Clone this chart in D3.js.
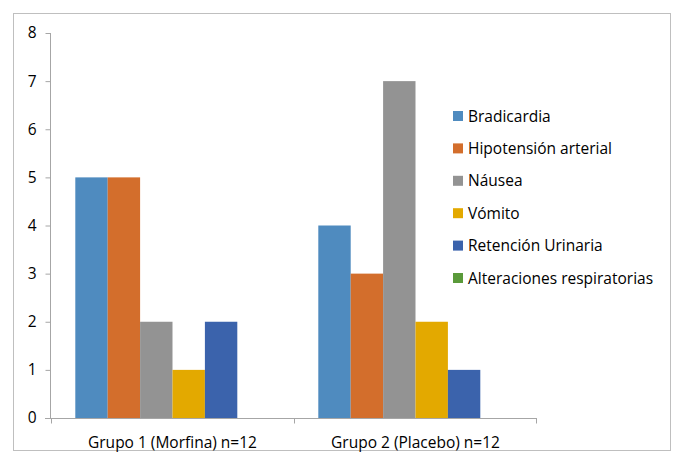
<!DOCTYPE html>
<html><head><meta charset="utf-8">
<script src="https://cdn.jsdelivr.net/npm/d3@7"></script>
<style>body{margin:0;background:#fff;} svg{display:block;} text{font-family:"Open Sans","Noto Sans",sans-serif;fill:#000;}</style>
</head><body>
<svg id="c" width="677" height="455"></svg>
<script>
const categories = ["Grupo 1 (Morfina) n=12", "Grupo 2 (Placebo) n=12"];
const seriesNames = ["Bradicardia", "Hipotensión arterial", "Náusea", "Vómito", "Retención Urinaria", "Alteraciones respiratorias"];
const seriesColors = ["#4F8BBF", "#D36E2C", "#939393", "#E3A900", "#3B63AC", "#5A9A3A"];
const values = [
  [5, 4],
  [5, 3],
  [2, 7],
  [1, 2],
  [2, 1],
  [0, 0]
];
const yTicks = [0,1,2,3,4,5,6,7,8];

const svg = d3.select("#c");
svg.append("rect").attr("x",13.5).attr("y",13.5).attr("width",657).attr("height",437)
  .attr("fill","#fff").attr("stroke","#bfbfbf").attr("stroke-width",1);

const x0 = d3.scaleBand().domain(categories).range([51,537]).paddingInner(0.2).paddingOuter(0.1);
const x1 = d3.scaleBand().domain(seriesNames).range([0, x0.bandwidth()]);
const y = d3.scaleLinear().domain([0,8]).range([418,33]);

const g = svg.append("g");
seriesNames.forEach((s,i)=>{
  g.selectAll(null).data(categories).enter().append("rect")
    .attr("x", c=>x0(c)+x1(s))
    .attr("y", (c,j)=>y(values[i][j]))
    .attr("width", x1.bandwidth())
    .attr("height", (c,j)=>y(0)-y(values[i][j]))
    .attr("fill", seriesColors[i]);
});

const yAxis = d3.axisLeft(y).tickValues(yTicks).tickSize(5).tickPadding(9);
const ya = svg.append("g").attr("transform","translate(50.5,0)").call(yAxis);
ya.select(".domain").attr("stroke","#a6a6a6").attr("d","M0,33V418");
ya.selectAll(".tick line").attr("stroke","#a6a6a6");
ya.selectAll(".tick text").attr("font-size","15.5px").attr("fill","#000");

// x axis
const xa = svg.append("g").attr("transform","translate(0,418.5)");
xa.append("line").attr("x1",45).attr("x2",537).attr("stroke","#a6a6a6");
const bounds = [51, (x0(categories[0])+x0.bandwidth()+x0(categories[1]))/2, 536];
xa.selectAll(".tk").data(bounds).enter().append("line")
  .attr("x1",d=>Math.round(d)+0.5).attr("x2",d=>Math.round(d)+0.5).attr("y1",0).attr("y2",5).attr("stroke","#a6a6a6");
xa.selectAll(".lbl").data(categories).enter().append("text")
  .attr("x",c=>x0(c)+x0.bandwidth()/2).attr("y",29).attr("text-anchor","middle")
  .attr("font-size","15.5px").text(c=>c);

// legend
const lg = svg.append("g");
seriesNames.forEach((s,i)=>{
  const yy = 116 + i*32.4;
  lg.append("rect").attr("x",453).attr("y",yy-5).attr("width",10).attr("height",10).attr("fill",seriesColors[i]);
  lg.append("text").attr("x",468).attr("y",yy+5.5).attr("font-size","15.5px").text(s);
});
</script>
</body></html>
